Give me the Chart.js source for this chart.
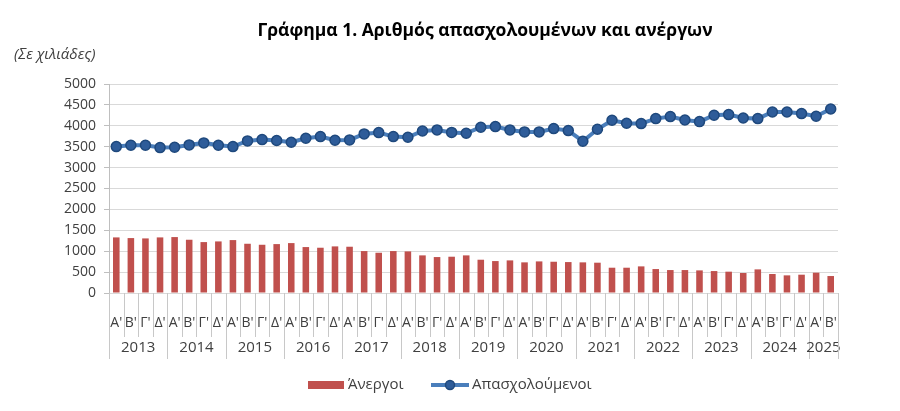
<!DOCTYPE html>
<html>
<head>
<meta charset="utf-8">
<script src="https://cdn.jsdelivr.net/npm/chart.js@4.4.1/dist/chart.umd.min.js"></script>
<style>
  html, body { margin: 0; padding: 0; background: #fff; }
  #wrap { width: 900px; height: 411px; position: relative; }
</style>
</head>
<body>
<div id="wrap"><canvas id="chart"></canvas></div>
<script>
// data (thousands)
var years = ['2013', '2014', '2015', '2016', '2017', '2018', '2019', '2020', '2021', '2022', '2023', '2024', '2025'];
var quarters = ["Α'", "Β'", "Γ'", "Δ'"];
var quartersPerYear = [4, 4, 4, 4, 4, 4, 4, 4, 4, 4, 4, 4, 2];

var unemployed = [1330, 1314, 1306, 1330, 1338, 1274, 1218, 1234, 1266, 1178,
                  1154, 1170, 1194, 1099, 1083, 1115, 1107, 1003, 963, 1003,
                  995, 900, 860, 868, 900, 796, 764, 780, 733, 756,
                  748, 740, 733, 725, 605, 605, 637, 573, 549, 549,
                  541, 525, 510, 478, 565, 454, 422, 438, 486, 406];
var employed = [3503, 3535, 3535, 3479, 3487, 3543, 3591, 3535, 3503, 3639,
                3670, 3647, 3607, 3702, 3742, 3655, 3662, 3806, 3838, 3742,
                3726, 3877, 3901, 3842, 3822, 3965, 3981, 3901, 3854, 3854,
                3933, 3885, 3631, 3917, 4132, 4061, 4053, 4172, 4220, 4140,
                4100, 4252, 4268, 4188, 4172, 4331, 4331, 4292, 4228, 4403];

var yTicks = [0, 500, 1000, 1500, 2000, 2500, 3000, 3500, 4000, 4500, 5000];

var labels = [];
quartersPerYear.forEach(function(n) {
  for (var q = 0; q < n; q++) labels.push(quarters[q]);
});

var FONT = '"Open Sans", "Noto Sans", sans-serif';
var TEXT = '#404040';

// titles, two level x axis and legend
var extras = {
  id: 'extras',
  afterDraw: function(chart) {
    var ctx = chart.ctx;
    var xs = chart.scales.x;
    var bottom = chart.chartArea.bottom;
    var step = xs.getPixelForValue(1) - xs.getPixelForValue(0);
    ctx.save();

    ctx.fillStyle = '#000';
    ctx.font = 'bold 17.5px ' + FONT;
    ctx.textAlign = 'center';
    ctx.textBaseline = 'middle';
    ctx.fillText('Γράφημα 1. Αριθμός απασχολουμένων και ανέργων', 485, 31);

    ctx.fillStyle = TEXT;
    ctx.font = 'italic 15px ' + FONT;
    ctx.textAlign = 'left';
    ctx.fillText('(Σε χιλιάδες)', 14, 55);

    // separators under the axis
    ctx.strokeStyle = '#c8c8c8';
    ctx.lineWidth = 1;
    var idx = 0;
    ctx.font = '15px ' + FONT;
    ctx.textAlign = 'center';
    ctx.fillStyle = TEXT;
    years.forEach(function(y, yi) {
      var n = quartersPerYear[yi];
      var left = xs.getPixelForValue(idx) - step / 2;
      var right = xs.getPixelForValue(idx + n - 1) + step / 2;
      for (var q = 0; q < n; q++) {
        var x = Math.round(xs.getPixelForValue(idx + q) - step / 2) + 0.5;
        ctx.beginPath();
        ctx.moveTo(x, bottom);
        ctx.lineTo(x, q === 0 ? bottom + 66 : bottom + 44);
        ctx.stroke();
      }
      ctx.fillText(y, (left + right) / 2, bottom + 55);
      idx += n;
    });
    var xe = Math.round(xs.getPixelForValue(idx - 1) + step / 2) + 0.5;
    ctx.beginPath();
    ctx.moveTo(xe, bottom);
    ctx.lineTo(xe, bottom + 66);
    ctx.stroke();

    // legend
    var ly = 385;
    ctx.fillStyle = '#C0504D';
    ctx.fillRect(308, ly - 4, 36, 8);
    ctx.fillStyle = TEXT;
    ctx.textAlign = 'left';
    ctx.font = '15px ' + FONT;
    ctx.fillText('Άνεργοι', 348, ly);
    ctx.strokeStyle = '#4A7EBB';
    ctx.lineWidth = 4;
    ctx.beginPath();
    ctx.moveTo(431, ly);
    ctx.lineTo(469, ly);
    ctx.stroke();
    ctx.beginPath();
    ctx.arc(450, ly, 4.5, 0, Math.PI * 2);
    ctx.fillStyle = '#2E5C99';
    ctx.fill();
    ctx.lineWidth = 1.5;
    ctx.strokeStyle = '#1F497D';
    ctx.stroke();
    ctx.fillStyle = TEXT;
    ctx.fillText('Απασχολούμενοι', 472, ly);

    ctx.restore();
  }
};

new Chart(document.getElementById('chart').getContext('2d'), {
  type: 'bar',
  data: {
    labels: labels,
    datasets: [{
      type: 'line',
      label: 'Απασχολούμενοι',
      data: employed,
      borderColor: '#4A7EBB',
      borderWidth: 4,
      pointRadius: 5,
      pointBackgroundColor: '#2E5C99',
      pointBorderColor: '#1F497D',
      pointBorderWidth: 1.5,
      tension: 0,
      order: 1
    }, {
      type: 'bar',
      label: 'Άνεργοι',
      data: unemployed,
      backgroundColor: '#C0504D',
      barPercentage: 0.9,
      categoryPercentage: 0.5,
      order: 2
    }]
  },
  options: {
    responsive: true,
    maintainAspectRatio: false,
    animation: false,
    layout: { padding: { left: 0, right: 62, top: 84, bottom: 0 } },
    plugins: {
      legend: { display: false },
      title: { display: false },
      tooltip: { enabled: false }
    },
    scales: {
      x: {
        grid: { display: false },
        border: { display: false },
        ticks: {
          color: TEXT,
          font: { family: FONT, size: 14 },
          maxRotation: 0,
          autoSkip: false,
          padding: 14
        },
        afterFit: function(scale) { scale.height = 118; }
      },
      y: {
        min: 0,
        max: 5000,
        afterBuildTicks: function(scale) {
          scale.ticks = yTicks.map(function(v) { return { value: v }; });
        },
        grid: { color: '#d9d9d9', tickLength: 5, tickColor: '#bfbfbf' },
        border: { color: '#bfbfbf' },
        ticks: {
          color: TEXT,
          font: { family: FONT, size: 14 },
          padding: 8,
          callback: function(v) { return String(v); }
        },
        afterFit: function(scale) { scale.width = 109; }
      }
    }
  },
  plugins: [extras]
});
</script>
</body>
</html>
